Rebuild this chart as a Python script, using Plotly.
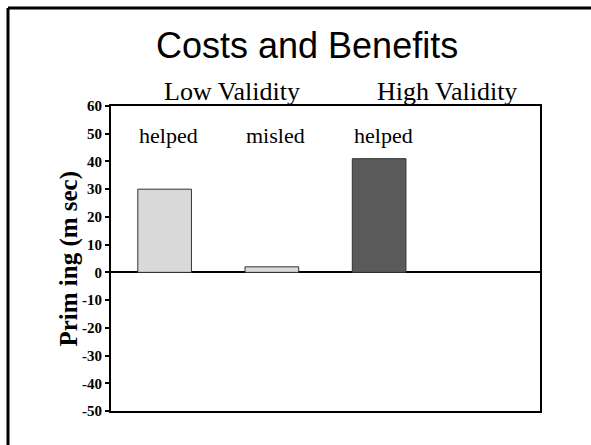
import plotly.graph_objects as go

# Priming effects (msec) by cue validity and trial outcome
conditions = ["Low helped", "Low misled", "High helped", "High misled"]
priming_ms = [30, 2, 41, None]
outcome_labels = ["helped", "misled", "helped", ""]
bar_colors = ["#D9D9D9", "#D9D9D9", "#5A5A5A", "#D9D9D9"]
group_names = ["Low Validity", "High Validity"]
y_ticks = [60, 50, 40, 30, 20, 10, 0, -10, -20, -30, -40, -50]
y_tick_text = [str(v) for v in y_ticks]  # plain hyphen for negatives

serif = "Liberation Serif, Times New Roman, serif"
sans = "Liberation Sans, Arial, sans-serif"

fig = go.Figure(
    go.Bar(
        x=conditions,
        y=priming_ms,
        width=0.5,
        marker=dict(color=bar_colors, line=dict(color="#333333", width=1)),
        hoverinfo="skip",
    )
)

annotations = []
# outcome labels above each bar
for i, lab in enumerate(outcome_labels):
    if lab:
        annotations.append(dict(
            x=i, y=49.5, xref="x", yref="y", text=lab, showarrow=False,
            xshift=4, font=dict(family=serif, size=22, color="black"),
        ))
# validity group headers
for g, name in enumerate(group_names):
    annotations.append(dict(
        x=2 * g + 0.5, y=1.046, xref="x", yref="paper", text=name,
        showarrow=False, xshift=14, yanchor="middle",
        font=dict(family=serif, size=26, color="black"),
    ))
# chart title
annotations.append(dict(
    x=(307 - 111) / 429, y=1.2, xref="paper", yref="paper",
    text="Costs and Benefits", showarrow=False, yanchor="middle",
    font=dict(family=sans, size=36, color="black"),
))
# y-axis title
annotations.append(dict(
    x=-0.1, y=0.5, xref="paper", yref="paper", text="Prim ing (m sec)",
    showarrow=False, textangle=-90, xanchor="center", yanchor="middle",
    font=dict(family=serif, size=25, color="black", weight="bold"),
))

fig.update_layout(
    width=591,
    height=445,
    margin=dict(l=111, r=51, t=106, b=34),
    paper_bgcolor="white",
    plot_bgcolor="white",
    showlegend=False,
    annotations=annotations,
    shapes=[
        # slide frame (left and top edges)
        dict(type="line", xref="paper", yref="paper", x0=-0.2401, x1=-0.2401,
             y0=-0.3, y1=1.3213, line=dict(color="black", width=3)),
        dict(type="line", xref="paper", yref="paper", x0=-0.2401, x1=1.3,
             y0=1.3213, y1=1.3213, line=dict(color="black", width=3)),
    ],
)

fig.update_xaxes(
    type="category",
    range=[-0.5, 3.5],
    showticklabels=False,
    ticks="",
    showgrid=False,
    showline=True,
    linecolor="black",
    linewidth=2,
    mirror=True,
    zeroline=False,
)

fig.update_yaxes(
    range=[-50, 60],
    tickvals=y_ticks,
    ticktext=y_tick_text,
    ticks="outside",
    ticklen=4,
    tickwidth=1.5,
    tickcolor="black",
    tickfont=dict(family=serif, size=15, color="black", weight="bold"),
    showgrid=False,
    showline=True,
    linecolor="black",
    linewidth=2,
    mirror=True,
    zeroline=True,
    zerolinecolor="black",
    zerolinewidth=2,
)

fig.write_html("out.html")
